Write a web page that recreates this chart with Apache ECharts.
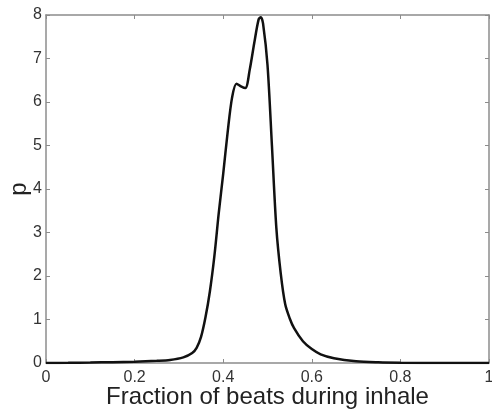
<!DOCTYPE html>
<html>
<head>
<meta charset="utf-8">
<script src="https://cdn.jsdelivr.net/npm/echarts@6/dist/echarts.min.js"></script>
<style>
html,body{margin:0;padding:0;background:#fff;}
#chart{width:492px;height:411px;}
</style>
</head>
<body>
<div id="chart"></div>
<script>
const xValues = [0, 0.05, 0.1, 0.15, 0.2, 0.25, 0.28, 0.31, 0.33, 0.34, 0.35, 0.36, 0.37, 0.38, 0.39, 0.4, 0.41, 0.42, 0.43, 0.44, 0.45, 0.46, 0.47, 0.48, 0.485, 0.49, 0.5, 0.51, 0.52, 0.53, 0.54, 0.55, 0.56, 0.58, 0.6, 0.62, 0.65, 0.7, 0.75, 0.8, 0.9, 1.0];
const pValues = [0, 0.003, 0.01, 0.02, 0.03, 0.05, 0.07, 0.13, 0.23, 0.35, 0.6, 1.05, 1.65, 2.45, 3.45, 4.35, 5.3, 6.1, 6.42, 6.36, 6.32, 6.75, 7.35, 7.9, 7.95, 7.8, 6.85, 5.0, 3.1, 2.05, 1.35, 1.03, 0.8, 0.5, 0.32, 0.2, 0.11, 0.04, 0.015, 0.005, 0, 0];
const xTicks = [0, 0.2, 0.4, 0.6, 0.8, 1];
const yTicks = [0, 1, 2, 3, 4, 5, 6, 7, 8];
const xLabel = 'Fraction of beats during inhale';
const yLabel = 'p';

const data = xValues.map((x, i) => [x, pValues[i]]);
const font = '"Liberation Sans", Arial, sans-serif';
const axisGray = '#8c8c8c';

const chart = echarts.init(document.getElementById('chart'), null, {renderer: 'canvas'});
const baseAxis = {
  axisLine: {show: true, onZero: false, lineStyle: {color: axisGray, width: 1.5}},
  axisTick: {show: true, inside: true, length: 4, lineStyle: {color: axisGray}},
  splitLine: {show: false}
};
chart.setOption({
  animation: false,
  backgroundColor: '#fff',
  grid: {left: 46, right: 3, top: 15, bottom: 48, containLabel: false, outerBoundsMode: 'none'},
  xAxis: [
    Object.assign({}, baseAxis, {
      type: 'value', min: xTicks[0], max: xTicks[xTicks.length - 1], interval: 0.2, position: 'bottom',
      name: xLabel, nameLocation: 'middle', nameGap: 22, nameMoveOverlap: false,
      nameTextStyle: {fontFamily: font, fontSize: 24, color: '#222', lineHeight: 24},
      axisLabel: {fontFamily: font, fontSize: 16, color: '#333', margin: 7,
        formatter: v => (v === 0 || v === 1) ? String(v) : v.toFixed(1)}
    }),
    Object.assign({}, baseAxis, {
      type: 'value', min: xTicks[0], max: xTicks[xTicks.length - 1], interval: 0.2, position: 'top',
      axisLabel: {show: false}
    })
  ],
  yAxis: [
    Object.assign({}, baseAxis, {
      type: 'value', min: yTicks[0], max: yTicks[yTicks.length - 1], interval: 1, position: 'left',
      name: yLabel, nameLocation: 'middle', nameGap: 15, nameRotate: 90, nameMoveOverlap: false,
      nameTextStyle: {fontFamily: font, fontSize: 24, color: '#222', lineHeight: 24},
      axisLabel: {fontFamily: font, fontSize: 16, color: '#333', margin: 4}
    }),
    Object.assign({}, baseAxis, {
      type: 'value', min: yTicks[0], max: yTicks[yTicks.length - 1], interval: 1, position: 'right',
      axisLabel: {show: false}
    })
  ],
  series: [{
    type: 'line',
    data: data,
    smooth: 0.3,
    showSymbol: false,
    lineStyle: {color: '#111', width: 2.5},
    xAxisIndex: 0, yAxisIndex: 0,
    clip: true
  }]
});
</script>
</body>
</html>
